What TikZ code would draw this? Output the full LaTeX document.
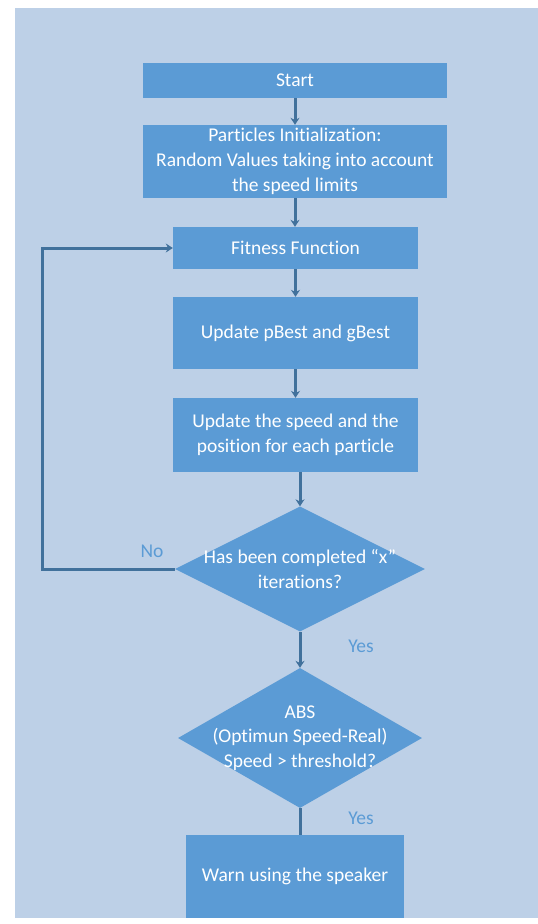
\documentclass[tikz,border=0pt]{standalone}
\usepackage{fontspec}
\setmainfont{Carlito}[Ligatures=NoCommon]
\usepackage{tikz}
\usetikzlibrary{positioning,shapes.geometric,arrows.meta}
\definecolor{pagebg}{HTML}{BDD0E7}
\definecolor{boxfill}{HTML}{5B9BD5}
\definecolor{linecol}{HTML}{41719C}

\begin{document}
\begin{tikzpicture}[x=1pt,y=-1pt,
  box/.style={fill=boxfill, text=white, font=\fontsize{19.5}{25}\selectfont, align=center, inner sep=0pt},
  decision/.style={diamond, fill=boxfill, inner sep=0pt},
  dtext/.style={text=white, font=\fontsize{19.5}{24.5}\selectfont, align=center},
  flow/.style={draw=linecol, line width=3pt, -{Stealth[length=7pt,width=9pt]}},
  link/.style={draw=linecol, line width=3pt},
  answer/.style={text=boxfill, font=\fontsize{19.5}{22}\selectfont}]
\useasboundingbox (0,0) rectangle (538,924);
\fill[pagebg] (15,8) rectangle (538,918);
% boxes
\node[box, minimum width=304pt, minimum height=35pt] (start) at (295,80.5) {Start};
\node[box, minimum width=304pt, minimum height=73pt] (init) at (295,161.5)
  {Particles Initialization:\\Random Values taking into account\\the speed limits};
\node[box, minimum width=245pt, minimum height=42pt] (fit) at (295.5,248) {Fitness Function};
\node[box, minimum width=245pt, minimum height=72pt] (pbest) at (295.5,333) {Update pBest and gBest};
\node[box, minimum width=245pt, minimum height=74pt] (speed) at (295.5,435)
  {Update the speed and the\\position for each particle};
% decisions
\node[decision, minimum width=250pt, minimum height=125pt,
  label={[dtext]center:{Has been completed ``x''\\iterations?}}] (iter) at (300,569) {};
\node[decision, minimum width=244pt, minimum height=140pt,
  label={[dtext]center:{ABS\\(Optimun Speed-Real)\\Speed > threshold?}}] (check) at (300,738) {};
\node[box, minimum width=218pt, minimum height=83pt] (warn) at (295,876.5) {Warn using the speaker};
% connectors
\draw[flow] (start) -- (init);
\draw[flow] (init) -- (init.south |- fit.north);
\draw[flow] (fit) -- (pbest);
\draw[flow] (pbest) -- (speed);
\draw[flow] (speed.south -| iter.north) -- (iter.north);
\draw[flow] (iter.south) -- (check.north);
\draw[link] (check.south) -- (check.south |- warn.north);
\coordinate (back) at (42,0);
\draw[flow] (iter.west) -- (iter.west -| back) |- (fit.west);
% answers
\node[answer] (no) at (152,551) {No};
\node[answer] (yes1) at (361,646) {Yes};
\node[answer] (yes2) at (361,818) {Yes};
\end{tikzpicture}
\end{document}
